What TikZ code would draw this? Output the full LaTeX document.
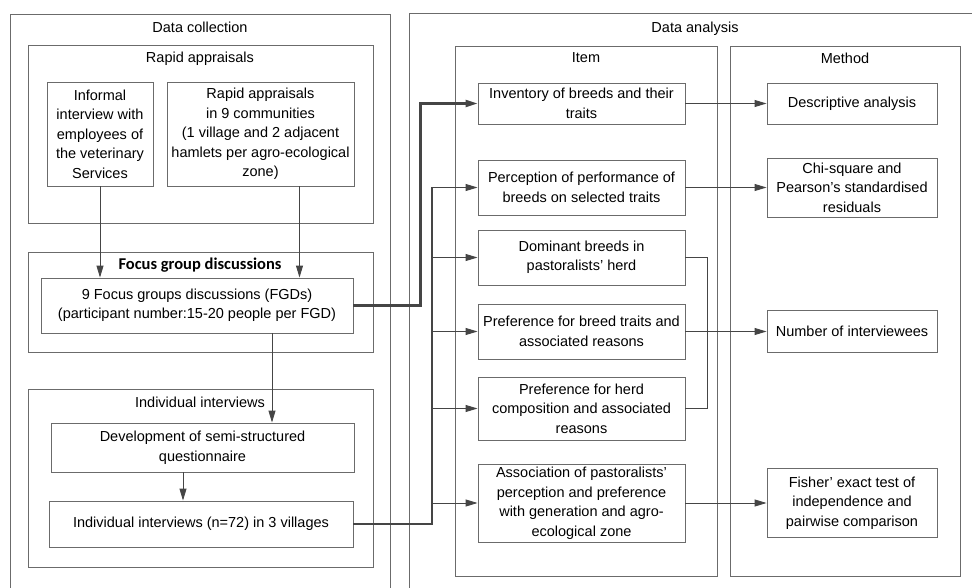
\documentclass[tikz,border=0pt]{standalone}
\usepackage{fontspec}
\setmainfont{Liberation Sans}
\newfontfamily\cfont{Carlito}
\usetikzlibrary{arrows.meta}
\definecolor{boxgray}{rgb}{0.42,0.42,0.42}
\definecolor{linegray}{rgb}{0.27,0.27,0.27}

\begin{document}
\begin{tikzpicture}[x=1pt,y=-1pt,
    box/.style={draw=boxgray,line width=0.9pt,inner sep=0pt,align=center,font=\fontsize{14.5}{19.5}\selectfont},
    frame/.style={draw=boxgray,line width=0.9pt},
    head/.style={font=\fontsize{14.5}{19.5}\selectfont},
    con/.style={draw=linegray,line width=0.9pt},
    arr/.style={con,-{Triangle[length=12pt,width=7pt]}},
    bus/.style={draw=linegray,line width=2.2pt}]
        \useasboundingbox (0,0) rectangle (972,588);
        % outer frames
        \draw[frame] (10,595) -- (10,14) -- (390,14) -- (390,595);
        \draw[frame] (409,595) -- (409,13) -- (990,13);
        \node[head] (dc) at (200,27) {Data collection};
        \node[head] (da) at (695,29) {Data analysis};
        % data collection
        \draw[frame] (28,45) rectangle (373,223);
        \draw[frame] (28,252) rectangle (373,352);
        \draw[frame] (28,389) rectangle (373,567);
        \node[head] (rat) at (200,59) {Rapid appraisals};
        \node[font=\fontsize{16.5}{19.5}\selectfont\cfont\bfseries] (fgt) at (200,265) {Focus group discussions};
        \node[head] (iit) at (200,402) {Individual interviews};

        \node[box,minimum width=106pt,minimum height=104pt] (inf) at (100,134) {Informal\\interview with\\employees of\\the veterinary\\Services};
        \node[box,minimum width=187pt,minimum height=104pt] (rapid) at (260.5,134) {Rapid appraisals\\in 9 communities\\ (1 village and 2 adjacent\\hamlets per agro-ecological\\zone)};
        \node[box,minimum width=312pt,minimum height=55pt] (fgd) at (197,305.5) {9 Focus groups discussions (FGDs)\\(participant number:15-20 people per FGD)};
        \node[box,minimum width=303pt,minimum height=49pt] (dev) at (202.5,447.5) {Development of semi-structured\\questionnaire};
        \node[box,minimum width=304pt,minimum height=46pt] (ind) at (201,524) {Individual interviews (n=72) in 3 villages};

        % data analysis
        \draw[frame] (455,46) rectangle (717,576);
        \draw[frame] (730,46) rectangle (960,576);
        \node[head] (itt) at (586,58) {Item};
        \node[head] (met) at (845,58) {Method};

        \node[box,minimum width=207pt,minimum height=41pt] (inv) at (581.5,103.5) {Inventory of breeds and their\\traits};
        \node[box,minimum width=207pt,minimum height=55pt] (perc) at (581.5,187.5) {Perception of performance of\\breeds on selected traits};
        \node[box,minimum width=207pt,minimum height=55pt] (dom) at (581.5,257.5) {Dominant breeds in\\pastoralists' herd};
        \node[box,minimum width=207pt,minimum height=55pt] (pbt) at (581.5,331.5) {Preference for breed traits and\\associated reasons};
        \node[box,minimum width=207pt,minimum height=63pt] (phc) at (581.5,408.5) {Preference for herd\\composition and associated\\reasons};
        \node[box,minimum width=207pt,minimum height=78pt] (assoc) at (581.5,503) {Association of pastoralists'\\perception and preference\\with generation and agro-\\ecological zone};

        \node[box,minimum width=170pt,minimum height=41pt] (desc) at (852,103.5) {Descriptive analysis};
        \node[box,minimum width=170pt,minimum height=59pt] (chi) at (852,187.5) {Chi-square and\\Pearson's standardised\\residuals};
        \node[box,minimum width=170pt,minimum height=42pt] (num) at (852,331.5) {Number of interviewees};
        \node[box,minimum width=170pt,minimum height=69pt] (fish) at (852,503) {Fisher' exact test of\\independence and\\pairwise comparison};

        % arrows in data collection
        \coordinate (raout) at ([xshift=39pt]rapid.south);
        \coordinate (fgout) at ([xshift=75pt]fgd.south);
        \coordinate (devout) at ([xshift=-19.5pt]dev.south);
        \draw[arr] (inf.south) -- (inf.south |- fgd.north);
        \draw[arr] (raout) -- (raout |- fgd.north);
        \draw[arr] (fgout) -- (fgout |- dev.north);
        \draw[arr] (devout) -- (devout |- ind.north);

        % links to items
        \coordinate (bus) at (432,0);
        \draw[bus,-{Triangle[length=12pt,width=7pt]}] (fgd.east) -- ++(67,0) |- (inv.west);
        \draw[bus] (ind.east) -| (bus |- perc.west);
        \foreach \n in {perc,dom,pbt,phc,assoc}
            \draw[arr] (bus |- \n.west) -- (\n.west);

        % items to methods
        \draw[arr] (inv.east) -- (desc.west);
        \draw[arr] (perc.east) -- (chi.west);
        \draw[arr] (pbt.east) -- (num.west);
        \draw[arr] (assoc.east) -- (fish.west);
        \draw[con] (dom.east) -- ++(22,0) |- (phc.east);
    \end{tikzpicture}
\end{document}
